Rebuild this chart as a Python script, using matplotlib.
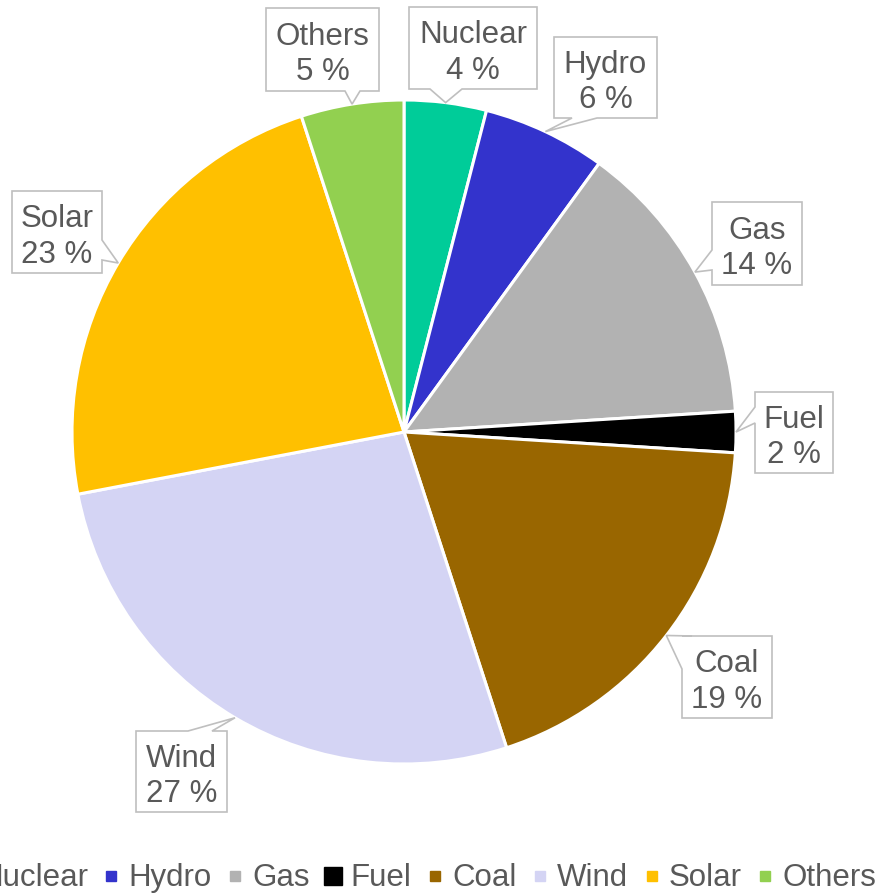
import numpy as np
import matplotlib.pyplot as plt
from matplotlib.patches import Polygon
from matplotlib.lines import Line2D

plt.rcParams['font.family'] = ['Liberation Sans', 'DejaVu Sans']

# Electricity generation mix (%)
sources = ['Nuclear', 'Hydro', 'Gas', 'Fuel', 'Coal', 'Wind', 'Solar', 'Others']
shares = [4, 6, 14, 2, 19, 27, 23, 5]
colors = ['#00cc99', '#3333cc', '#b2b2b2', '#000000', '#996600', '#d4d4f4', '#ffc000', '#92d050']
explode = [0, 0, 0, 0.015, 0, 0, 0, 0]

# callout boxes (x0, y0, x1, y1) in pixels, and where the pointer leaves the box
boxes = {
    'Nuclear': ((409, 7, 537, 89), [(462, 89), None, (430, 89)]),
    'Hydro': ((554, 37, 657, 118), [(597, 118), None, (572, 118)]),
    'Gas': ((712, 202, 802, 285), [(712, 270), None, (712, 250)]),
    'Fuel': ((755, 392, 833, 473), [(755, 423), None, (755, 407)]),
    'Coal': ((682, 636, 772, 718), [(682, 669), None, (692, 636)]),
    'Wind': ((136, 731, 227, 812), [(188, 731), None, (212, 731)]),
    'Solar': ((12, 191, 102, 273), [(102, 240), None, (102, 260)]),
    'Others': ((266, 8, 379, 91), [(360, 91), None, (345, 91)]),
}

W, H = 879, 893
cx, cy, r = 404, 432, 332
text_color = '#595959'
edge_color = '#bfbfbf'

fig = plt.figure(figsize=(W / 100, H / 100), dpi=100)
ax = fig.add_axes([0, 0, 1, 1])

# y axis runs downward, so counterclock=True draws clockwise on screen
wedges, _ = ax.pie(shares, colors=colors, explode=explode, startangle=-90,
                   counterclock=True, center=(cx, cy), radius=r,
                   wedgeprops=dict(edgecolor='white', linewidth=2.2))
ax.set_xlim(0, W)
ax.set_ylim(H, 0)
ax.set_aspect('equal')
ax.axis('off')


def callout_polygon(rect, pointer, tip):
    x0, y0, x1, y1 = rect
    a, _, b = pointer
    corners = [(x0, y0), (x1, y0), (x1, y1), (x0, y1)]
    # walk the rectangle and splice the pointer in on the right edge
    pts = []
    edges = [((x0, y0), (x1, y0)), ((x1, y0), (x1, y1)),
             ((x1, y1), (x0, y1)), ((x0, y1), (x0, y0))]

    def on_edge(p, e):
        (ax_, ay), (bx, by) = e
        return (min(ax_, bx) - 0.1 <= p[0] <= max(ax_, bx) + 0.1 and
                min(ay, by) - 0.1 <= p[1] <= max(ay, by) + 0.1)

    def param(p, e):
        (ax_, ay), (bx, by) = e
        L = abs(bx - ax_) + abs(by - ay)
        return (abs(p[0] - ax_) + abs(p[1] - ay)) / L

    inserted = False
    for i, e in enumerate(edges):
        pts.append(corners[i])
        if not inserted:
            ea, eb = on_edge(a, e), on_edge(b, e)
            if ea and eb:
                p1, p2 = (a, b) if param(a, e) < param(b, e) else (b, a)
                pts += [p1, tip, p2]
                inserted = True
            elif ea or eb:
                nxt = edges[(i + 1) % 4]
                p1 = a if ea else b
                p2 = b if ea else a
                if on_edge(p2, nxt):
                    pts += [p1, tip]
                    # skip the corner that the pointer cuts
                    pts.append(p2)
                    inserted = 'skip'
                    continue
        if inserted == 'skip':
            inserted = True
            pts.pop(-2)
    return pts


cum = np.cumsum([0] + shares)
total = cum[-1]
for i, name in enumerate(sources):
    mid = (cum[i] + cum[i + 1]) / 2 / total
    theta = np.deg2rad(-90 + 360 * mid)
    tip = (cx + r * np.cos(theta), cy + r * np.sin(theta))
    rect, pointer = boxes[name]
    poly = Polygon(callout_polygon(rect, pointer, tip), closed=True,
                   facecolor='white', edgecolor=edge_color, linewidth=1.2,
                   zorder=5, joinstyle='miter')
    ax.add_patch(poly)
    x0, y0, x1, y1 = rect
    ax.text((x0 + x1) / 2, (y0 + y1) / 2 + 5, f'{name}\n{shares[i]} %',
            ha='center', va='center', multialignment='center',
            fontsize=22.5, color=text_color, linespacing=1.25, zorder=6)

handles = [Line2D([], [], marker='s', linestyle='none', markersize=(13 if s == 'Fuel' else 7),
                  markerfacecolor=c, markeredgecolor=c) for s, c in zip(sources, colors)]
fig.legend(handles, sources, ncol=8, frameon=False, loc='lower right',
           bbox_to_anchor=(878 / W, -2 / H), borderaxespad=0, borderpad=0.05,
           fontsize=22.5, labelcolor=text_color, handlelength=0.9,
           handletextpad=0.1, columnspacing=0.3)

fig.savefig('out.png', dpi=100)
